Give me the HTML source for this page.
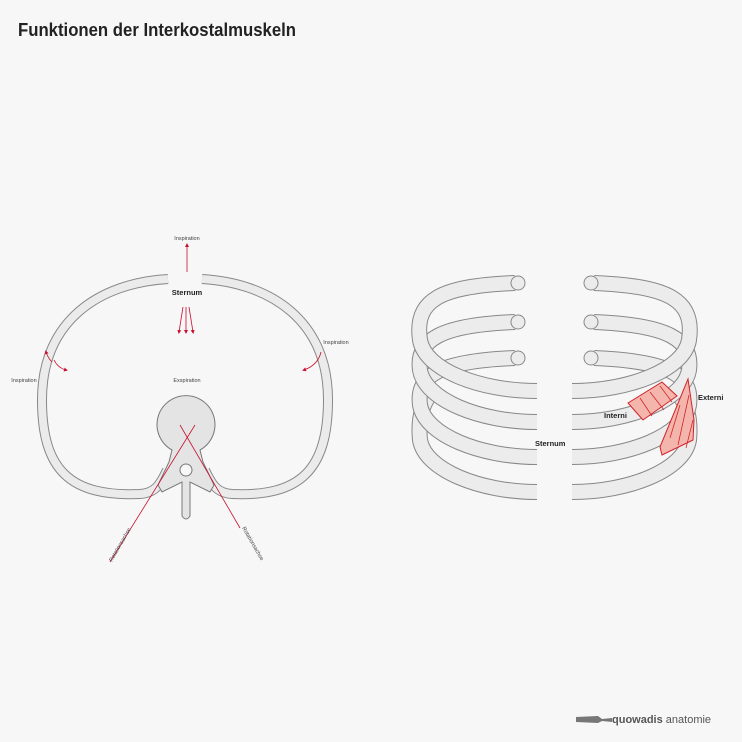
<!DOCTYPE html>
<html><head><meta charset="utf-8"><style>
body{margin:0;background:#f7f7f7;}
svg{display:block;font-family:"Liberation Sans",sans-serif;}
</style></head><body>
<svg width="742" height="742" viewBox="0 0 742 742">
<rect width="742" height="742" fill="#f7f7f7"/>
<text x="18" y="36" font-size="18" font-weight="bold" fill="#222" textLength="278" lengthAdjust="spacingAndGlyphs" style="font-family:'Liberation Sans Narrow','Liberation Sans',sans-serif">Funktionen der Interkostalmuskeln</text>
<defs><marker id="ah" markerWidth="5" markerHeight="5" refX="2.5" refY="2.5" orient="auto"><path d="M0,0 L5,2.5 L0,5z" fill="#c8102e"/></marker></defs>
<g>
 <g fill="none" stroke-linecap="butt">
  <path d="M168,279 C100,283 42,320 42,400 C42,470 70,497 140,494 C155,493 160,485 167,470" stroke="#888" stroke-width="10"/>
  <path d="M168,279 C100,283 42,320 42,400 C42,470 70,497 140,494 C155,493 160,485 167,470" stroke="#ebebeb" stroke-width="8"/>
  <path d="M202,279 C270,283 328,320 328,400 C328,470 300,497 232,494 C217,493 212,485 205,470" stroke="#888" stroke-width="10"/>
  <path d="M202,279 C270,283 328,320 328,400 C328,470 300,497 232,494 C217,493 212,485 205,470" stroke="#ebebeb" stroke-width="8"/>
 </g>
 <path d="M172,450 A29,29 0 1 1 200,450 L203,462 L214,485 L210,492 L190,482 L190,516 Q186,522 182,516 L182,482 L162,492 L158,485 L169,462 Z" fill="#e4e4e4" stroke="#777" stroke-width="1"/>
 <circle cx="186" cy="470" r="6" fill="#f7f7f7" stroke="#777"/>
 <g stroke="#c8102e" stroke-width="0.8" fill="none">
  <line x1="110" y1="562" x2="195" y2="425"/>
  <line x1="240" y1="528" x2="180" y2="425"/>
  <line x1="187" y1="272" x2="187" y2="245" marker-end="url(#ah)"/>
  <line x1="183" y1="307" x2="179" y2="332" marker-end="url(#ah)"/>
  <line x1="186" y1="307" x2="186" y2="332" marker-end="url(#ah)"/>
  <line x1="189" y1="307" x2="193" y2="332" marker-end="url(#ah)"/>
  <path d="M52,362 Q48,358 46,352" marker-end="url(#ah)"/>
  <path d="M54,360 Q58,368 66,370" marker-end="url(#ah)"/>
  <path d="M321,352 Q318,365 304,370" marker-end="url(#ah)"/>
 </g>
 <text x="187" y="240" font-size="5.5" fill="#444" text-anchor="middle">Inspiration</text>
 <text x="187" y="295" font-size="7.5" font-weight="bold" fill="#222" text-anchor="middle">Sternum</text>
 <text x="187" y="382" font-size="5.5" fill="#444" text-anchor="middle">Exspiration</text>
 <text x="24" y="382" font-size="5.5" fill="#444" text-anchor="middle">Inspiration</text>
 <text x="336" y="344" font-size="5.5" fill="#444" text-anchor="middle">Inspiration</text>
 <text font-size="5.5" fill="#444" transform="translate(112,562) rotate(-60)">Rotationsachse</text>
 <text font-size="5.5" fill="#444" transform="translate(242,528) rotate(60)">Rotationsachse</text>
</g>
<g fill="none">
 <g id="ribs">
  <path d="M537,492 C480,492 425,470 420,440 C418,420 422,405 430,395" stroke="#888" stroke-width="16"/>
  <path d="M537,492 C480,492 425,470 420,440 C418,420 422,405 430,395" stroke="#ececec" stroke-width="14"/>
  <path d="M537,457 C480,457 425,435 420,405 C416,375 440,361 515,358" stroke="#888" stroke-width="16"/>
  <path d="M537,457 C480,457 425,435 420,405 C416,375 440,361 515,358" stroke="#ececec" stroke-width="14"/>
  <path d="M537,422 C480,422 425,400 420,370 C416,340 440,325 515,322" stroke="#888" stroke-width="16"/>
  <path d="M537,422 C480,422 425,400 420,370 C416,340 440,325 515,322" stroke="#ececec" stroke-width="14"/>
  <path d="M537,391 C480,391 425,370 420,340 C414,300 440,286 515,283" stroke="#888" stroke-width="16"/>
  <path d="M537,391 C480,391 425,370 420,340 C414,300 440,286 515,283" stroke="#ececec" stroke-width="14"/>
  <circle cx="518" cy="283" r="7" fill="#ececec" stroke="#888"/>
  <circle cx="518" cy="322" r="7" fill="#ececec" stroke="#888"/>
  <circle cx="518" cy="358" r="7" fill="#ececec" stroke="#888"/>
 </g>
 <use href="#ribs" transform="translate(1109,0) scale(-1,1)"/>
 <polygon points="628,403 662,382 677,396 643,420" fill="#f4b6ac" stroke="#d2232a" stroke-width="1"/>
 <polygon points="660,447 688,379 694,420 693,440 662,455" fill="#f4b6ac" stroke="#d2232a" stroke-width="1"/>
 <g stroke="#d2232a" stroke-width="0.8"><line x1="640" y1="398" x2="652" y2="416"/><line x1="650" y1="392" x2="664" y2="410"/><line x1="660" y1="386" x2="672" y2="402"/><line x1="670" y1="438" x2="680" y2="405"/><line x1="678" y1="445" x2="689" y2="395"/><line x1="686" y1="448" x2="693" y2="420"/></g>
 <text x="604" y="418" font-size="7.5" font-weight="bold" fill="#222">Interni</text>
 <text x="698" y="400" font-size="7.5" font-weight="bold" fill="#222">Externi</text>
 <text x="535" y="446" font-size="7.5" font-weight="bold" fill="#222">Sternum</text>
</g>
<g>
 <path d="M576,717 L598,716 L602,719 L612,718 L612,722 L602,721 L598,723 L576,722 Z" fill="#777"/>
 <text x="612" y="723" font-size="11" fill="#555"><tspan font-weight="bold">quowadis</tspan> anatomie</text>
</g>
</svg>
</body></html>
